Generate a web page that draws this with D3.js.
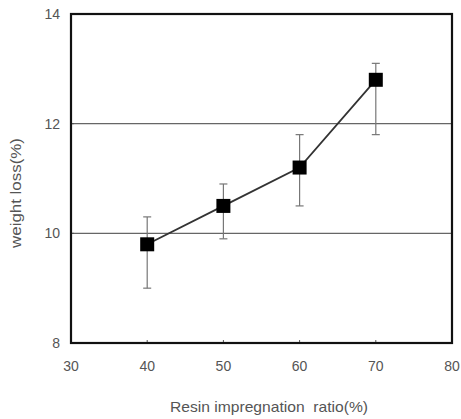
<!DOCTYPE html>
<html>
<head>
<meta charset="utf-8">
<script src="https://cdn.jsdelivr.net/npm/d3@7"></script>
<style>
  body { margin: 0; background: #fff; }
  text { font-family: "Liberation Sans", Arial, sans-serif; fill: #555; white-space: pre; }
</style>
</head>
<body>
<svg id="chart" width="461" height="419"></svg>
<script>
const ratio = [40, 50, 60, 70];
const loss = [9.8, 10.5, 11.2, 12.8];
const errLow = [9.0, 9.9, 10.5, 11.8];
const errHigh = [10.3, 10.9, 11.8, 13.1];
const xTicks = [30, 40, 50, 60, 70, 80];
const yTicks = [8, 10, 12, 14];
const gridLines = [10, 12];

const svg = d3.select("#chart");
const x = d3.scaleLinear().domain([30, 80]).range([71, 452]);
const y = d3.scaleLinear().domain([8, 14]).range([343, 14]);

// grid
svg.selectAll(".grid")
  .data(gridLines)
  .enter().append("line")
  .attr("x1", x(30)).attr("x2", x(80))
  .attr("y1", d => y(d)).attr("y2", d => y(d))
  .attr("stroke", "#666").attr("stroke-width", 1.2);

// small ticks
svg.selectAll(".xt")
  .data(xTicks.slice(1, -1))
  .enter().append("line")
  .attr("x1", d => x(d)).attr("x2", d => x(d))
  .attr("y1", y(8)).attr("y2", y(8) - 3)
  .attr("stroke", "#555").attr("stroke-width", 1);

svg.selectAll(".yt")
  .data(gridLines)
  .enter().append("line")
  .attr("x1", x(30)).attr("x2", x(30) + 3)
  .attr("y1", d => y(d)).attr("y2", d => y(d))
  .attr("stroke", "#555").attr("stroke-width", 1);

// frame
svg.append("rect")
  .attr("x", x(30)).attr("y", y(14))
  .attr("width", x(80) - x(30)).attr("height", y(8) - y(14))
  .attr("fill", "none").attr("stroke", "#111").attr("stroke-width", 2.2);

// tick labels
svg.selectAll(".xl")
  .data(xTicks)
  .enter().append("text")
  .attr("x", d => x(d)).attr("y", 371)
  .attr("text-anchor", "middle")
  .style("font-size", "14px")
  .text(d => d);

svg.selectAll(".yl")
  .data(yTicks)
  .enter().append("text")
  .attr("x", 60).attr("y", d => y(d) + 5)
  .attr("text-anchor", "end")
  .style("font-size", "14px")
  .text(d => d);

// axis titles
svg.append("text")
  .attr("x", 170).attr("y", 412)
  .attr("textLength", 198)
  .attr("lengthAdjust", "spacingAndGlyphs")
  .style("font-size", "15px")
  .text("Resin impregnation  ratio(%)");

svg.append("text")
  .attr("transform", "translate(21,248) rotate(-90)")
  .attr("textLength", 110)
  .attr("lengthAdjust", "spacingAndGlyphs")
  .style("font-size", "14px")
  .text("weight loss(%)");

// error bars
ratio.forEach((r, i) => {
  svg.append("line")
    .attr("x1", x(r)).attr("x2", x(r))
    .attr("y1", y(errLow[i])).attr("y2", y(errHigh[i]))
    .attr("stroke", "#777").attr("stroke-width", 1.2);
  [errLow[i], errHigh[i]].forEach(v => {
    svg.append("line")
      .attr("x1", x(r) - 4).attr("x2", x(r) + 4)
      .attr("y1", y(v)).attr("y2", y(v))
      .attr("stroke", "#777").attr("stroke-width", 1.2);
  });
});

// line
svg.append("path")
  .datum(ratio.map((r, i) => [r, loss[i]]))
  .attr("d", d3.line().x(d => x(d[0])).y(d => y(d[1])))
  .attr("fill", "none").attr("stroke", "#333").attr("stroke-width", 1.8);

// markers
svg.selectAll(".pt")
  .data(ratio)
  .enter().append("rect")
  .attr("x", d => x(d) - 7)
  .attr("y", (d, i) => y(loss[i]) - 7)
  .attr("width", 14).attr("height", 14)
  .attr("fill", "#000");
</script>
</body>
</html>
